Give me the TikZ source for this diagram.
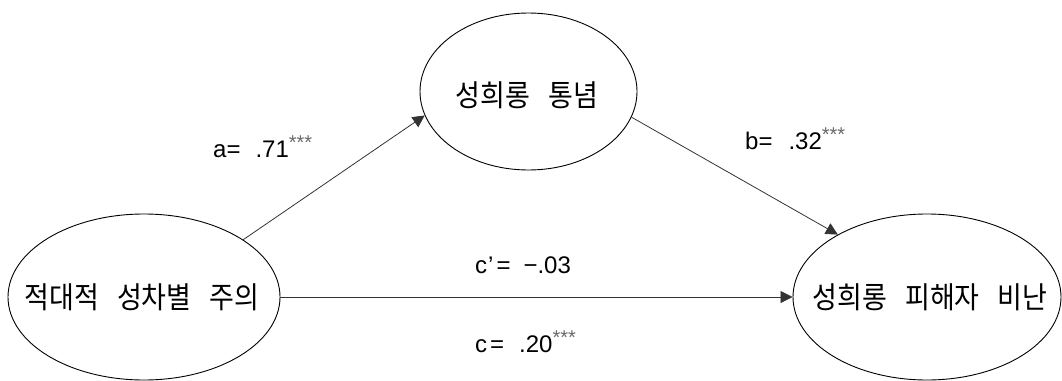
\documentclass[tikz,border=0pt]{standalone}
\usepackage{fontspec}
\setmainfont{Liberation Sans}
\newfontfamily\kr[WordSpace=3,FakeStretch=0.9]{Noto Sans CJK KR}
\usetikzlibrary{arrows.meta,shapes.geometric}
\definecolor{stargray}{RGB}{105,105,105}
\tikzset{
  var/.style={draw=black, line width=0.9pt, ellipse, inner sep=0pt},
  vartext/.style={inner sep=0pt, font=\kr\fontsize{30}{33}\selectfont},
  conn/.style={draw=black!80, line width=0.8pt,
    -{Triangle[length=12pt,width=12pt]}},
  coef/.style={anchor=base west, inner sep=0pt,
    font=\fontsize{24}{27}\selectfont},
}
\newcommand{\stars}{{\fontsize{20}{20}\selectfont\textcolor{stargray}{\raisebox{8pt}{***}}}}
\begin{document}
\begin{tikzpicture}[x=1pt,y=-1pt]
\useasboundingbox (0,0) rectangle (1062,380);
\node[var, minimum width=272pt, minimum height=166pt] (L) at (144,297) {};
\node[var, minimum width=217pt, minimum height=157pt] (T) at (528.5,91.5) {};
\node[var, minimum width=268pt, minimum height=166pt] (R) at (927,297) {};
\node[vartext] (Lt) at (142,297) {적대적 성차별 주의};
\node[vartext] (Tt) at (527,95) {성희롱 통념};
\node[vartext] (Rt) at (930,297) {성희롱 피해자 비난};
\draw[conn] (L.30) -- (T.193.7);
\draw[conn] (T.346.3) -- (R.145.6);
\draw[conn] (L.east) -- (R.west);
\node[coef] (la) at (213,157) {a=\hspace{15pt}.71\stars};
\node[coef] (lb) at (745,149) {b=\hspace{16pt}.32\stars};
\node[coef] (lc1) at (475,273) {c\hspace{1pt}’\hspace{3pt}=\hspace{13pt}−.03};
\node[coef] (lc) at (475,352) {c\hspace{3pt}=\hspace{15pt}.20\stars};
\end{tikzpicture}
\end{document}
